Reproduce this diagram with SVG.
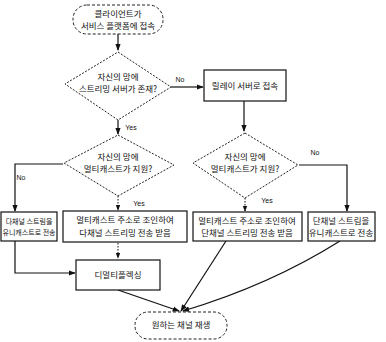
<svg xmlns="http://www.w3.org/2000/svg" width="386" height="342" viewBox="0 0 386 342">
<style>
text{font-family:"Noto Sans CJK KR","Liberation Sans",sans-serif;font-size:8.5px;fill:#111;text-anchor:middle}
.sm{font-size:7px}
.lbl{font-family:"Liberation Sans",sans-serif;font-size:7px}
.box{fill:#fff;stroke:#111;stroke-width:1.2}
.dia{fill:#fff;stroke:#222;stroke-width:1;stroke-dasharray:2 1.5}
.term{fill:#fff;stroke:#222;stroke-width:1;stroke-dasharray:3 2}
.ln{fill:none;stroke:#111;stroke-width:1.2}
.dot{fill:none;stroke:#111;stroke-width:1;stroke-dasharray:1.5 1.5}
</style>
<defs>
<marker id="ah" viewBox="0 0 8 8" refX="7" refY="4" markerWidth="6" markerHeight="6" orient="auto">
<path d="M0,1 L8,4 L0,7 Z" fill="#111"/>
</marker>
</defs>
<rect width="386" height="342" fill="#fff"/>
<g id="connectors">
<path class="ln" d="M118,34 V50" marker-end="url(#ah)"/>
<path class="ln" d="M171,87 H203" marker-end="url(#ah)"/>
<path class="ln" d="M118,120 V134" marker-end="url(#ah)"/>
<path class="ln" d="M244,101 V131" marker-end="url(#ah)"/>
<path class="ln" d="M63,164 H15 V211" marker-end="url(#ah)"/>
<path class="dot" d="M118,196 V210" marker-end="url(#ah)"/>
<path class="ln" d="M299,165 H347 V211" marker-end="url(#ah)"/>
<path class="dot" d="M245,198 V211" marker-end="url(#ah)"/>
<path class="ln" d="M15,241 V273 H75" marker-end="url(#ah)"/>
<path class="dot" d="M118,243 V258" marker-end="url(#ah)"/>
<path class="ln" d="M118,290 L179,311" marker-end="url(#ah)"/>
<path class="ln" d="M226,241 L181,311" marker-end="url(#ah)"/>
<path class="ln" d="M340,241 Q270,285 183,311" marker-end="url(#ah)"/>
<text class="lbl" x="180" y="82">No</text>
<text class="lbl" x="131" y="130">Yes</text>
<text class="lbl" x="21" y="180">No</text>
<text class="lbl" x="139" y="206">Yes</text>
<text class="lbl" x="315" y="155">No</text>
<text class="lbl" x="267" y="203">Yes</text>
</g>
<g id="start">
<rect class="term" x="73" y="5" width="90" height="29" rx="14" ry="14"/>
<text x="118" y="17">클라이언트가</text>
<text x="118" y="29">서비스 플랫폼에 접속</text>
</g>
<g id="dec1">
<polygon class="dia" points="118,52 171,87 118,120 65,84"/>
<text x="118" y="80">자신의 망에</text>
<text x="118" y="92">스트리밍 서버가 존재?</text>
</g>
<g id="relay">
<rect class="box" x="204" y="70" width="82" height="31"/>
<text x="245" y="89">릴레이 서버로 접속</text>
</g>
<g id="dec2">
<polygon class="dia" points="118,135 174,165 118,196 64,163"/>
<text x="118" y="160">자신의 망에</text>
<text x="118" y="172">멀티캐스트가 지원?</text>
</g>
<g id="dec3">
<polygon class="dia" points="245,133 298,165 245,198 193,163"/>
<text x="245" y="160">자신의 망에</text>
<text x="245" y="172">멀티캐스트가 지원?</text>
</g>
<g id="box-left">
<rect class="box" x="1" y="212" width="56" height="29"/>
<text class="sm" x="29" y="224">다채널 스트림을</text>
<text class="sm" x="29" y="235">유니캐스트로 전송</text>
</g>
<g id="box-mid">
<rect class="box" x="63" y="211" width="124" height="31"/>
<text x="125" y="223">멀티캐스트 주소로 조인하여</text>
<text x="125" y="236">다채널 스트리밍 전송 받음</text>
</g>
<g id="box-rmid">
<rect class="box" x="193" y="212" width="109" height="29"/>
<text x="247" y="224">멀티캐스트 주소로 조인하여</text>
<text x="247" y="236">단채널 스트리밍 전송 받음</text>
</g>
<g id="box-right">
<rect class="box" x="308" y="212" width="67" height="29"/>
<text x="341" y="224">단채널 스트림을</text>
<text x="341" y="236">유니캐스트로 전송</text>
</g>
<g id="demux">
<rect class="box" x="76" y="260" width="84" height="30"/>
<text x="118" y="278">디멀티플렉싱</text>
</g>
<g id="end">
<rect class="term" x="135" y="312" width="92" height="27" rx="13" ry="13"/>
<text x="181" y="328">원하는 채널 재생</text>
</g>
</svg>
